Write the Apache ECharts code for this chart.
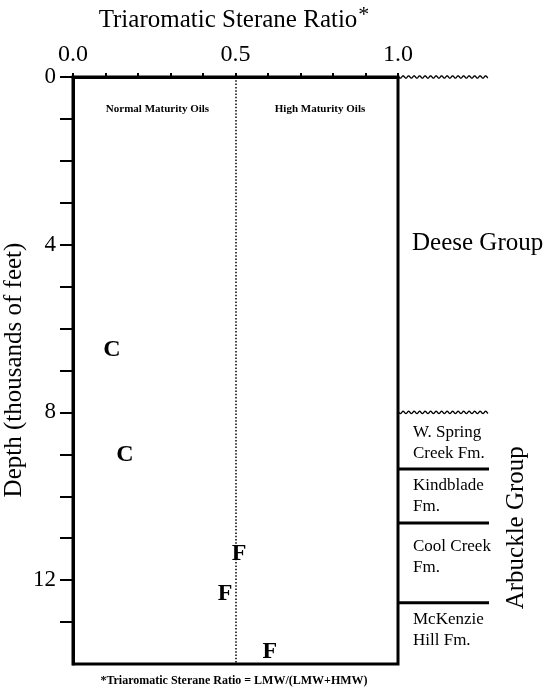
<!DOCTYPE html>
<html>
<head>
<meta charset="utf-8">
<title>Triaromatic Sterane Ratio vs Depth</title>
<script src="https://cdn.jsdelivr.net/npm/echarts@6/dist/echarts.min.js"></script>
<style>
  html, body { margin: 0; padding: 0; background: #fff; }
  #chart { width: 547px; height: 689px; }
</style>
</head>
<body>
<div id="chart"></div>
<script>
// Oil samples: triaromatic sterane ratio vs. reservoir depth (thousands of feet)
const ratio = [0.12, 0.16, 0.511, 0.468, 0.606];
const depthKft = [6.51, 9.01, 11.38, 12.33, 13.7];
const sampleCode = ['C', 'C', 'F', 'F', 'F'];

// Tick labels
const xTickLabels = [0, 0.5, 1.0];
const yTickLabels = [0, 4, 8, 12];
const yTickValues = [0, 1, 2, 3, 4, 5, 6, 7, 8, 9, 10, 11, 12, 13];

// Maturity boundary and zone captions
const maturityCutoff = 0.5;
const maturityZones = ['Normal Maturity Oils', 'High Maturity Oils'];
const maturityZoneRatio = [0.26, 0.76];
const maturityZoneDepth = [0.77, 0.77];

// Stratigraphic column
const unconformityDepth = [0, 8];
const contactDepth = [9.35, 10.64, 12.54];
const formationNames = ['W. Spring\nCreek Fm.', 'Kindblade\nFm.', 'Cool Creek\nFm.', 'McKenzie\nHill Fm.'];
const formationLabelDepth = [8.72, 10.0, 11.46, 13.2];
const groupNames = ['Deese Group', 'Arbuckle Group'];
const groupLabelDepth = [3.96, 10.75];

const SERIF = '"Liberation Serif", "DejaVu Serif", serif';
const COLUMN_WIDTH = 91;

const chart = echarts.init(document.getElementById('chart'), null, { renderer: 'canvas' });

// Sample symbols drawn as letters centred on each data point
function sampleLetter(params, api) {
  const p = api.coord([api.value(0), api.value(1)]);
  return {
    type: 'text',
    x: p[0],
    y: p[1],
    style: {
      text: sampleCode[params.dataIndex],
      fontFamily: SERIF, fontSize: 24, fontWeight: 'bold',
      fill: '#000', align: 'center', verticalAlign: 'middle'
    }
  };
}

function wavyLine(params, api) {
  const p = api.coord([api.value(0), api.value(1)]);
  const pts = [];
  for (let dx = 0; dx <= COLUMN_WIDTH - 2; dx += 0.5) {
    pts.push([p[0] + 1 + dx, p[1] + 1.2 * Math.sin(dx * 2 * Math.PI / 5.5)]);
  }
  return { type: 'polyline', shape: { points: pts }, style: { stroke: '#000', lineWidth: 1.3, fill: null } };
}

function contactLine(params, api) {
  const p = api.coord([api.value(0), api.value(1)]);
  return {
    type: 'line',
    shape: { x1: p[0], y1: p[1], x2: p[0] + COLUMN_WIDTH, y2: p[1] },
    style: { stroke: '#000', lineWidth: 3 }
  };
}

function formationLabel(params, api) {
  const p = api.coord([api.value(0), api.value(1)]);
  return {
    type: 'text',
    x: p[0] + 15,
    y: p[1],
    style: {
      text: formationNames[params.dataIndex],
      fontFamily: SERIF, fontSize: 17, lineHeight: 21,
      fill: '#000', align: 'left', verticalAlign: 'middle'
    }
  };
}

function groupLabel(params, api) {
  const p = api.coord([api.value(0), api.value(1)]);
  const vertical = params.dataIndex === 1;
  return {
    type: 'text',
    x: vertical ? p[0] + 118 : p[0] + 14,
    y: p[1],
    rotation: vertical ? Math.PI / 2 : 0,
    style: {
      text: groupNames[params.dataIndex],
      fontFamily: SERIF, fontSize: 25,
      fill: '#000', align: vertical ? 'center' : 'left', verticalAlign: 'middle'
    }
  };
}

function zoneLabel(params, api) {
  const p = api.coord([api.value(0), api.value(1)]);
  return {
    type: 'text',
    x: p[0],
    y: p[1],
    style: {
      text: maturityZones[params.dataIndex],
      fontFamily: SERIF, fontSize: 11, fontWeight: 'bold',
      fill: '#000', align: 'center', verticalAlign: 'middle'
    }
  };
}

const option = {
  animation: false,
  backgroundColor: '#fff',
  grid: {
    left: 73, right: 149, top: 77, bottom: 25,
    show: true, borderColor: '#000', borderWidth: 3
  },
  xAxis: {
    type: 'value',
    position: 'top',
    min: 0, max: 1, interval: 0.1,
    axisLine: { show: true, lineStyle: { color: '#000', width: 3 } },
    axisTick: { show: true, length: 4, lineStyle: { color: '#000', width: 2 } },
    axisLabel: {
      show: true,
      customValues: xTickLabels,
      formatter: v => v.toFixed(1),
      fontFamily: SERIF, fontSize: 24, color: '#000', margin: 10,
      showMinLabel: true, showMaxLabel: true
    },
    splitLine: { show: false }
  },
  yAxis: {
    type: 'value',
    inverse: true,
    min: 0, max: 14, interval: 1,
    axisLine: { show: true, lineStyle: { color: '#000', width: 3 } },
    axisTick: { show: true, customValues: yTickValues, length: 13, lineStyle: { color: '#000', width: 2 } },
    axisLabel: {
      show: true,
      customValues: yTickLabels,
      formatter: v => String(v),
      fontFamily: SERIF, fontSize: 23, color: '#000', margin: 17
    },
    splitLine: { show: false }
  },
  graphic: [
    {
      type: 'text',
      x: 234, y: 20,
      style: {
        text: '{t|Triaromatic Sterane Ratio}{s|*}',
        align: 'center', verticalAlign: 'middle',
        rich: {
          t: { fontFamily: SERIF, fontSize: 25, fill: '#000' },
          s: { fontFamily: SERIF, fontSize: 22, fill: '#000', verticalAlign: 'top', padding: [0, 0, 10, 1] }
        }
      }
    },
    {
      type: 'text',
      x: 14, y: 370,
      rotation: Math.PI / 2,
      style: {
        text: 'Depth (thousands of feet)',
        fontFamily: SERIF, fontSize: 25, fill: '#000',
        align: 'center', verticalAlign: 'middle'
      }
    },
    {
      type: 'text',
      x: 234, y: 681,
      style: {
        text: '*Triaromatic Sterane Ratio = LMW/(LMW+HMW)',
        fontFamily: SERIF, fontSize: 12, fontWeight: 'bold', fill: '#000',
        align: 'center', verticalAlign: 'middle'
      }
    }
  ],
  series: [
    {
      type: 'custom',
      clip: false,
      renderItem: sampleLetter,
      data: ratio.map((r, i) => [r, depthKft[i]]),
      markLine: {
        silent: true,
        symbol: ['none', 'none'],
        label: { show: false },
        lineStyle: { color: '#000', type: [1.5, 1.8], width: 1.5 },
        data: [{ xAxis: maturityCutoff }]
      },
      z: 5
    },
    {
      type: 'custom',
      clip: false,
      renderItem: zoneLabel,
      data: maturityZoneRatio.map((r, i) => [r, maturityZoneDepth[i]])
    },
    {
      type: 'custom',
      clip: false,
      renderItem: wavyLine,
      data: unconformityDepth.map(d => [1, d])
    },
    {
      type: 'custom',
      clip: false,
      renderItem: contactLine,
      data: contactDepth.map(d => [1, d])
    },
    {
      type: 'custom',
      clip: false,
      renderItem: formationLabel,
      data: formationLabelDepth.map(d => [1, d])
    },
    {
      type: 'custom',
      clip: false,
      renderItem: groupLabel,
      data: groupLabelDepth.map(d => [1, d])
    }
  ]
};

chart.setOption(option);
</script>
</body>
</html>
